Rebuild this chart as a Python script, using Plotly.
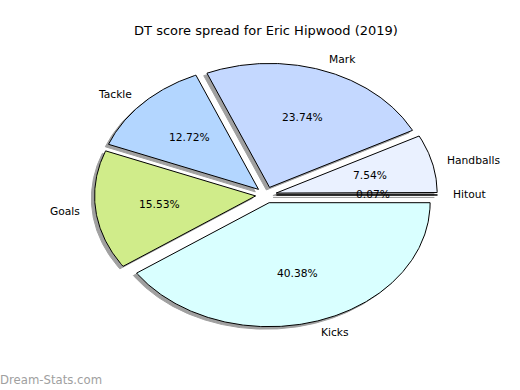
import numpy as np
import plotly.graph_objects as go

# Data (percent of DT score), counter-clockwise from 0 degrees
categories = ["Hitout", "Handballs", "Mark", "Tackle", "Goals", "Kicks"]
values = [0.07, 7.54, 23.74, 12.72, 15.53, 40.38]
colors = ["#2b2b2b", "#eaf1ff", "#c4d8ff", "#b3d6ff", "#d0ec8a", "#d9ffff"]
title = "DT score spread for Eric Hipwood (2019)"
watermark = "Dream-Stats.com"

explode = 0.065
label_dist = 1.1
pct_dist = 0.6
shadow_off = (-0.02, -0.02)
W, H = 520, 390
cxp, cyp = 266, 195      # pie centre (pixels)
sx, sy = 161, 124        # pixels per unit

font = "DejaVu Sans"
fig = go.Figure()

total = sum(values)
fracs = [v / total for v in values]
theta = 0.0
wedges = []
for cat, f, col, v in zip(categories, fracs, colors, values):
    t1 = theta
    t2 = theta + 360 * f
    theta = t2
    tm = np.deg2rad((t1 + t2) / 2)
    ox = explode * np.cos(tm)
    oy = explode * np.sin(tm)
    ts = np.deg2rad(np.linspace(t1, t2, max(4, int(abs(t2 - t1) * 2))))
    xs = np.concatenate([[0], np.cos(ts), [0]]) + ox
    ys = np.concatenate([[0], np.sin(ts), [0]]) + oy
    wedges.append((cat, col, v, tm, ox, oy, xs, ys))

# shadows
for cat, col, v, tm, ox, oy, xs, ys in wedges:
    fig.add_trace(go.Scatter(
        x=xs + shadow_off[0], y=ys + shadow_off[1], mode="lines",
        fill="toself", fillcolor="#a0a0a0", line=dict(color="#a0a0a0", width=1),
        hoverinfo="skip", showlegend=False))

# wedges
for cat, col, v, tm, ox, oy, xs, ys in wedges:
    fig.add_trace(go.Scatter(
        x=xs, y=ys, mode="lines", fill="toself", fillcolor=col,
        line=dict(color="black", width=1), name=cat,
        hoverinfo="name", showlegend=False))

annotations = []
for cat, col, v, tm, ox, oy, xs, ys in wedges:
    lx = ox + label_dist * np.cos(tm)
    ly = oy + label_dist * np.sin(tm)
    right = lx > 0
    annotations.append(dict(
        x=lx, y=ly, xref="x", yref="y", text=cat, showarrow=False,
        xanchor="left" if right else "right", yanchor="middle",
        xshift=-3 if right else 2,
        font=dict(family=font, size=10.7, color="black")))
    px = ox + pct_dist * np.cos(tm)
    py = oy + pct_dist * np.sin(tm)
    annotations.append(dict(
        x=px, y=py, xref="x", yref="y", text="%.2f%%" % v,
        showarrow=False, xanchor="center", yanchor="middle",
        font=dict(family=font, size=10.7, color="black")))

annotations.append(dict(
    x=0, y=(H - 380) / H, xref="paper", yref="paper", text=watermark,
    showarrow=False, xanchor="left", yanchor="middle", xshift=-2,
    font=dict(family=font, size=11.7, color="#a0a0a0")))

fig.update_layout(
    width=W, height=H,
    margin=dict(l=0, r=0, t=0, b=0),
    paper_bgcolor="white", plot_bgcolor="white",
    title=dict(text=title, x=266 / W, xanchor="center", y=(H - 30) / H,
               yanchor="middle", yref="container",
               font=dict(family=font, size=13, color="black")),
    xaxis=dict(visible=False, range=[-cxp / sx, (W - cxp) / sx], fixedrange=True),
    yaxis=dict(visible=False, range=[-(H - cyp) / sy, cyp / sy], fixedrange=True),
    annotations=annotations,
)

fig.write_html("out.html", config={"displayModeBar": False},
               post_script="document.body.style.margin='0';")
